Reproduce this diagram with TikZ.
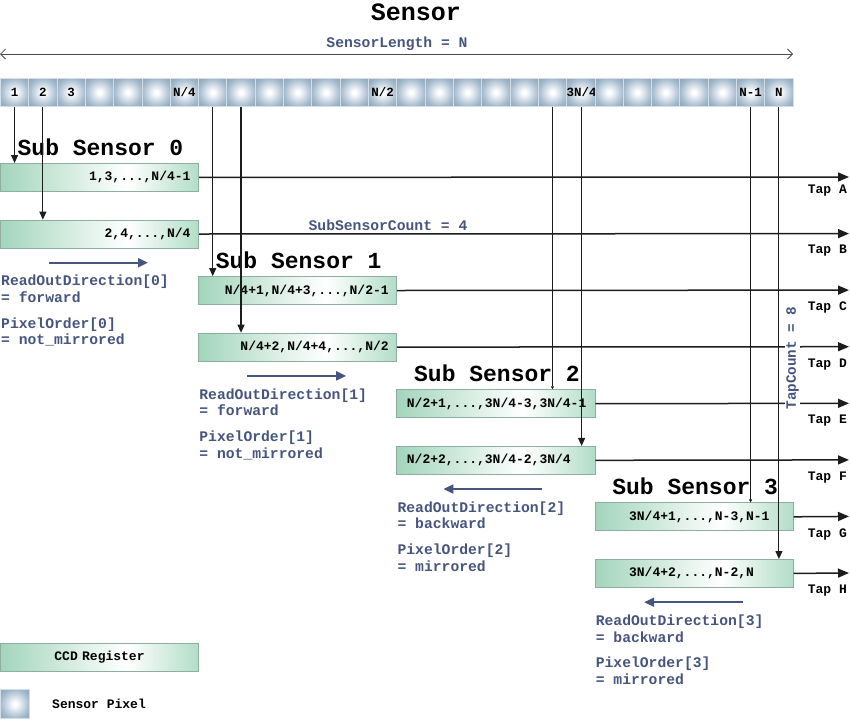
\documentclass[tikz,border=0pt]{standalone}
\usepackage{fontspec}
\setmainfont{Liberation Mono}
\usetikzlibrary{arrows.meta}
\definecolor{bluetxt}{HTML}{46557E}
\definecolor{regg}{HTML}{A3D5BC}
\definecolor{regg2}{HTML}{B2DDC8}
\definecolor{regb}{HTML}{8FAE9F}
\definecolor{pixo}{HTML}{A2B9CC}
\definecolor{pixb}{HTML}{D4DEE6}
\definecolor{ln}{HTML}{1C1C1C}
\pgfdeclarehorizontalshading{regshade}{100bp}{color(0bp)=(regg); color(25bp)=(regg); color(57bp)=(white); color(75bp)=(regg2); color(100bp)=(regg2)}
\pgfdeclareradialshading{pixshade}{\pgfpoint{0bp}{0bp}}{color(0bp)=(white); color(3bp)=(white); color(25bp)=(pixo); color(36bp)=(pixo!88!black); color(50bp)=(pixo!88!black)}
\begin{document}
\begin{tikzpicture}[x=1pt,y=-1pt,
  pix/.style={draw=pixb, line width=0.8pt, shade, shading=pixshade, minimum width=28.31pt, minimum height=28pt, inner sep=0pt, anchor=north west, font=\bfseries\fontsize{12.5}{13}\selectfont},
  reg/.style={draw=regb, line width=0.8pt, shade, shading=regshade, minimum width=198.2pt, minimum height=28pt, inner sep=0pt, anchor=north west, font=\bfseries\fontsize{13}{14}\selectfont, text width=182pt},
  vline/.style={draw=ln, line width=1.1pt, -{Triangle[length=8pt,width=7pt]}},
  vlinesmall/.style={draw=ln, line width=1.1pt, -{Triangle[length=3pt,width=3pt]}},
  tapline/.style={draw=ln, line width=1.5pt, -{Triangle[length=11pt,width=9pt]}},
  taplbl/.style={anchor=east, inner sep=0pt, font=\bfseries\fontsize{13}{14}\selectfont},
  subttl/.style={inner sep=0pt, font=\bfseries\fontsize{23}{24}\selectfont},
  blue/.style={text=bluetxt, inner sep=0pt, font=\bfseries\fontsize{14.7}{16}\selectfont},
  roarrow/.style={draw=bluetxt, line width=2pt, -{Triangle[length=10pt,width=9pt]}}
]
\useasboundingbox (0,0) rectangle (850,726);

% title
\node[inner sep=0pt, font=\bfseries\fontsize{25}{26}\selectfont] (title) at (416,12) {Sensor};

% sensor length
\coordinate (slL) at (0,54);
\coordinate (slR) at (793,54);
\draw[draw=black!70, line width=0.8pt, {Straight Barb[length=5pt,width=10pt]}-{Straight Barb[length=5pt,width=10pt]}] (slL) -- (slR);
\node[blue] (sllbl) at (397,44) {SensorLength = N};

% pixels
\foreach \i/\t in {1/1,2/2,3/3,4/{},5/{},6/{},7/{N/4},8/{},9/{},10/{},11/{},12/{},13/{},14/{N/2},15/{},16/{},17/{},18/{},19/{},20/{},21/{3N/4},22/{},23/{},24/{},25/{},26/{},27/{N-1},28/N}
  \node[pix] (p\i) at ({(\i-1)*28.31},78) {\t};

% sub sensor titles
\node[subttl] (s0) at (100.5,147) {Sub Sensor 0};
\node[subttl] (s1) at (298.7,260.2) {Sub Sensor 1};
\node[subttl] (s2) at (497,373.4) {Sub Sensor 2};
\node[subttl] (s3) at (695.2,486.6) {Sub Sensor 3};

% registers
\node[reg, align=right] (rA) at (0,163) {1,3,...,N/4-1};
\node[reg, align=right] (rB) at (0,219.6) {2,4,...,N/4};
\node[reg, align=right] (rC) at (198.2,276.1) {N/4+1,N/4+3,...,N/2-1};
\node[reg, align=right] (rD) at (198.2,332.7) {N/4+2,N/4+4,...,N/2};
\node[reg, align=left] (rE) at (396.4,389.3) {\hspace*{2pt}N/2+1,...,3N/4-3,3N/4-1};
\node[reg, align=left] (rF) at (396.4,445.9) {\hspace*{2pt}N/2+2,...,3N/4-2,3N/4};
\node[reg, align=left] (rG) at (594.6,502.4) {\hspace*{26pt}3N/4+1,...,N-3,N-1};
\node[reg, align=left] (rH) at (594.6,559) {\hspace*{26pt}3N/4+2,...,N-2,N};

% tap lines
\foreach \r/\y in {A/177,B/233.6,C/290.1,D/346.7,E/403.3,F/459.9,G/516.4,H/573}
  \coordinate (t\r) at (849,\y);
\foreach \r in {A,B,C,D,E,F,G,H}
  \draw[tapline] (r\r.east) -- (t\r);

% tap labels
\node[taplbl] (lA) at (847,190.5) {Tap A};
\node[taplbl] (lB) at (847,251) {Tap B};
\node[taplbl] (lC) at (847,307.8) {Tap C};
\node[taplbl] (lD) at (847,364.4) {Tap D};
\node[taplbl] (lE) at (847,421) {Tap E};
\node[taplbl] (lF) at (847,477.6) {Tap F};
\node[taplbl] (lG) at (847,534.1) {Tap G};
\node[taplbl] (lH) at (847,590.7) {Tap H};

% vertical pixel-to-register connectors
\draw[vline] (p1.south) -- (p1.south |- rA.north);
\draw[vline] (p2.south) -- (p2.south |- rB.north);
\draw[vline] (p8.south) -- (p8.south |- rC.north);
\draw[vline] (p9.south) -- (p9.south |- rD.north);
\draw[vlinesmall] (p20.south) -- (p20.south |- rE.north);
\draw[vline] (p21.south) -- (p21.south |- rF.north);
\draw[vlinesmall] (p27.south) -- (p27.south |- rG.north);
\draw[vline] (p28.south) -- (p28.south |- rH.north);

% counts
\node[blue] (ssc) at (388,225) {SubSensorCount = 4};
\node[blue, fill=white, inner sep=1.5pt, rotate=90, font=\bfseries\fontsize{14.3}{15}\selectfont] (tc) at (792.5,358) {TapCount = 8};

% readout arrows
\coordinate (a0s) at (49,262.7);   \coordinate (a0e) at (148,262.7);
\coordinate (a1s) at (247.2,375.9); \coordinate (a1e) at (346.2,375.9);
\coordinate (a2s) at (542.4,489);  \coordinate (a2e) at (443.4,489);
\coordinate (a3s) at (743.1,602.2);  \coordinate (a3e) at (644.1,602.2);
\draw[roarrow] (a0s) -- (a0e);
\draw[roarrow] (a1s) -- (a1e);
\draw[roarrow] (a2s) -- (a2e);
\draw[roarrow] (a3s) -- (a3e);

% parameter texts
\foreach \k/\x/\dir/\ord in {0/0/forward/not\_mirrored,1/198.2/forward/not\_mirrored,2/396.4/backward/mirrored,3/594.6/backward/mirrored}{
  \node[blue, anchor=base west] (rd\k) at (\x+1,{285.8+113.2*\k}) {ReadOutDirection[\k]};
  \node[blue, anchor=base west] (rv\k) at (\x+1,{302.5+113.2*\k}) {= \dir};
  \node[blue, anchor=base west] (po\k) at (\x+1,{328.1+113.2*\k}) {PixelOrder[\k]};
  \node[blue, anchor=base west] (pv\k) at (\x+1,{344.8+113.2*\k}) {= \ord};
}

% legend
\node[reg, align=center] (legreg) at (0,643) {CCD Register};
\node[pix, minimum width=29pt, minimum height=29pt] (legpix) at (0,689) {};
\node[anchor=west, inner sep=0pt, font=\bfseries\fontsize{13}{14}\selectfont] (legpixlbl) at (52,704) {Sensor Pixel};
\end{tikzpicture}
\end{document}
